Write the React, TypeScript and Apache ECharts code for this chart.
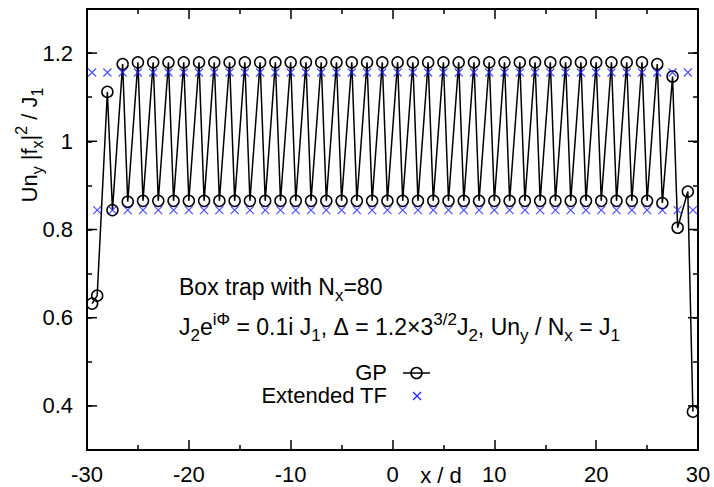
import React, { useEffect, useRef } from "react";
import * as echarts from "echarts";

// Site positions x/d (80 sites, box trap)
const xSites = [
  -29.5, -29, -28, -27.5, -26.5, -26, -25, -24.5, -23.5, -23,
  -22, -21.5, -20.5, -20, -19, -18.5, -17.5, -17, -16, -15.5,
  -14.5, -14, -13, -12.5, -11.5, -11, -10, -9.5, -8.5, -8,
  -7, -6.5, -5.5, -5, -4, -3.5, -2.5, -2, -1, -0.5,
  0.5, 1, 2, 2.5, 3.5, 4, 5, 5.5, 6.5, 7,
  8, 8.5, 9.5, 10, 11, 11.5, 12.5, 13, 14, 14.5,
  15.5, 16, 17, 17.5, 18.5, 19, 20, 20.5, 21.5, 22,
  23, 23.5, 24.5, 25, 26, 26.5, 27.5, 28, 29, 29.5,
];

// GP values
const gpValues = [
  0.632, 0.65, 1.112, 0.844, 1.175, 0.863, 1.179, 0.865, 1.179, 0.865,
  1.179, 0.865, 1.179, 0.865, 1.179, 0.865, 1.179, 0.865, 1.179, 0.865,
  1.179, 0.865, 1.179, 0.865, 1.179, 0.865, 1.179, 0.865, 1.179, 0.865,
  1.179, 0.865, 1.179, 0.865, 1.179, 0.865, 1.179, 0.865, 1.179, 0.865,
  1.179, 0.865, 1.179, 0.865, 1.179, 0.865, 1.179, 0.865, 1.179, 0.865,
  1.179, 0.865, 1.179, 0.865, 1.179, 0.865, 1.179, 0.865, 1.179, 0.865,
  1.179, 0.865, 1.179, 0.865, 1.179, 0.865, 1.179, 0.865, 1.179, 0.865,
  1.179, 0.865, 1.179, 0.865, 1.175, 0.86, 1.147, 0.804, 0.886, 0.387,
];

// Extended TF values
const tfValues = [
  1.156, 0.844, 1.156, 0.844, 1.156, 0.844, 1.156, 0.844, 1.156, 0.844,
  1.156, 0.844, 1.156, 0.844, 1.156, 0.844, 1.156, 0.844, 1.156, 0.844,
  1.156, 0.844, 1.156, 0.844, 1.156, 0.844, 1.156, 0.844, 1.156, 0.844,
  1.156, 0.844, 1.156, 0.844, 1.156, 0.844, 1.156, 0.844, 1.156, 0.844,
  1.156, 0.844, 1.156, 0.844, 1.156, 0.844, 1.156, 0.844, 1.156, 0.844,
  1.156, 0.844, 1.156, 0.844, 1.156, 0.844, 1.156, 0.844, 1.156, 0.844,
  1.156, 0.844, 1.156, 0.844, 1.156, 0.844, 1.156, 0.844, 1.156, 0.844,
  1.156, 0.844, 1.156, 0.844, 1.156, 0.844, 1.156, 0.844, 1.156, 0.844,
];

// Long (major) ticks on the y axis
const yMajorTicks = [0.4, 0.6, 0.8, 1.0, 1.2];

const FONT = "'Liberation Sans', Arial, Helvetica, sans-serif";
const BLUE = "#2020ff";
const FS = 22;

const richStyles = {
  t: { fontSize: FS, fontFamily: FONT, color: "#000", lineHeight: 32 },
  s: { fontSize: 16, fontFamily: FONT, color: "#000", lineHeight: 16, verticalAlign: "bottom" },
  p: { fontSize: 16, fontFamily: FONT, color: "#000", lineHeight: 16, verticalAlign: "top" },
};

const richAnno = {
  t: { fontSize: 23, fontFamily: FONT, color: "#000", lineHeight: 33 },
  s: { fontSize: 17, fontFamily: FONT, color: "#000", lineHeight: 17, verticalAlign: "bottom" },
  p: { fontSize: 17, fontFamily: FONT, color: "#000", lineHeight: 17, verticalAlign: "top" },
};

export default function App() {
  const ref = useRef<HTMLDivElement>(null);

  useEffect(() => {
    if (!ref.current) return;
    const chart = echarts.init(ref.current, null, { renderer: "svg" });

    const axisCommon = {
      axisLine: { show: true, onZero: false, lineStyle: { color: "#000", width: 2 } },
      splitLine: { show: false },
    };

    const option = {
      animation: false,
      grid: { left: 87, right: 16, top: 9, bottom: 37, containLabel: false },
      xAxis: [
        {
          type: "value",
          min: -30,
          max: 30,
          interval: 10,
          position: "bottom",
          ...axisCommon,
          axisTick: { show: true, inside: true, length: 10, lineStyle: { color: "#000", width: 1.5 } },
          minorTick: { show: true, splitNumber: 2, length: 5, lineStyle: { color: "#000", width: 1.5 } },
          axisLabel: { color: "#000", fontSize: FS, fontFamily: FONT, margin: 13 },
        },
        {
          type: "value",
          min: -30,
          max: 30,
          interval: 10,
          position: "top",
          ...axisCommon,
          axisTick: { show: true, inside: true, length: 10, lineStyle: { color: "#000", width: 1.5 } },
          minorTick: { show: true, splitNumber: 2, length: 5, lineStyle: { color: "#000", width: 1.5 } },
          axisLabel: { show: false },
        },
      ],
      yAxis: [
        {
          type: "value",
          min: 0.3,
          max: 1.3,
          interval: 0.1,
          position: "left",
          ...axisCommon,
          axisTick: { show: true, inside: true, length: 5, lineStyle: { color: "#000", width: 1.5 } },
          axisLabel: {
            color: "#000",
            fontSize: FS,
            fontFamily: FONT,
            margin: 14,
            formatter: (v: number) => {
              const k = Math.round(v * 10);
              return k % 2 === 0 ? String(k / 10) : "";
            },
          },
        },
        {
          type: "value",
          min: 0.3,
          max: 1.3,
          interval: 0.1,
          position: "right",
          ...axisCommon,
          axisTick: { show: true, inside: true, length: 5, lineStyle: { color: "#000", width: 1.5 } },
          axisLabel: { show: false },
        },
      ],
      series: [
        {
          name: "GP",
          type: "line",
          xAxisIndex: 0,
          yAxisIndex: 0,
          data: xSites.map((x, i) => [x, gpValues[i]]),
          symbol: "circle",
          symbolSize: 11,
          showSymbol: true,
          itemStyle: { color: "rgba(0,0,0,0)", borderColor: "#000", borderWidth: 1.5 },
          lineStyle: { color: "#000", width: 1.5 },
          z: 2,
        },
        {
          name: "Extended TF",
          type: "scatter",
          xAxisIndex: 0,
          yAxisIndex: 0,
          data: xSites.map((x, i) => [x, tfValues[i]]),
          symbol: "path://M0,0L10,10M0,10L10,0",
          symbolSize: 8,
          itemStyle: { color: "rgba(0,0,0,0)", borderColor: BLUE, borderWidth: 1.2 },
          z: 3,
        },
        {
          type: "custom",
          xAxisIndex: 0,
          yAxisIndex: 0,
          silent: true,
          data: yMajorTicks.map((v) => [0, v]),
          renderItem: (params: any, api: any) => {
            const cs = params.coordSys;
            const y = api.coord([0, api.value(1)])[1];
            const st = { stroke: "#000", lineWidth: 1.5 };
            return {
              type: "group",
              children: [
                { type: "line", shape: { x1: cs.x, y1: y, x2: cs.x + 10, y2: y }, style: st },
                { type: "line", shape: { x1: cs.x + cs.width - 10, y1: y, x2: cs.x + cs.width, y2: y }, style: st },
              ],
            };
          },
          z: 4,
        },
      ],
      graphic: [
        {
          type: "text",
          x: 29,
          y: 145,
          rotation: Math.PI / 2,
          style: {
            text: "{t|Un}{s|y}{t| |f}{s|x}{t||}{p|2}{t| / J}{s|1}",
            rich: richStyles,
            align: "center",
            verticalAlign: "middle",
          },
        },
        {
          type: "text",
          x: 441,
          y: 475,
          style: {
            text: "x / d",
            fontSize: FS,
            fontFamily: FONT,
            fill: "#000",
            align: "center",
            verticalAlign: "middle",
          },
        },
        {
          type: "text",
          x: 179,
          y: 287,
          style: {
            text: "{t|Box trap with N}{s|x}{t|=80}",
            rich: richAnno,
            align: "left",
            verticalAlign: "middle",
          },
        },
        {
          type: "text",
          x: 179,
          y: 327,
          style: {
            text:
              "{t|J}{s|2}{t|e}{p|iΦ}{t| = 0.1i J}{s|1}{t|, }{t|Δ}{t| = 1.2}{t|×}{t|3}{p|3/2}{t|J}{s|2}{t|, Un}{s|y}{t| / N}{s|x}{t| = J}{s|1}",
            rich: richAnno,
            align: "left",
            verticalAlign: "middle",
          },
        },
        {
          type: "text",
          x: 387,
          y: 372,
          style: { text: "GP", fontSize: FS, lineHeight: 22, fontFamily: FONT, fill: "#000", align: "right", verticalAlign: "middle" },
        },
        {
          type: "line",
          shape: { x1: 403, y1: 373, x2: 430, y2: 373 },
          style: { stroke: "#000", lineWidth: 1.5 },
        },
        {
          type: "circle",
          shape: { cx: 416.5, cy: 373, r: 5.5 },
          style: { stroke: "#000", lineWidth: 1.5, fill: "none" },
        },
        {
          type: "text",
          x: 387,
          y: 395,
          style: { text: "Extended TF", fontSize: FS, lineHeight: 22, fontFamily: FONT, fill: "#000", align: "right", verticalAlign: "middle" },
        },
        {
          type: "line",
          shape: { x1: 413, y1: 392, x2: 421, y2: 400 },
          style: { stroke: BLUE, lineWidth: 1.2 },
        },
        {
          type: "line",
          shape: { x1: 413, y1: 400, x2: 421, y2: 392 },
          style: { stroke: BLUE, lineWidth: 1.2 },
        },
      ],
    };

    chart.setOption(option as any);
    return () => chart.dispose();
  }, []);

  return (
    <div
      ref={ref}
      style={{ position: "fixed", left: 0, top: 0, width: 714, height: 487, background: "#fff" }}
    />
  );
}
